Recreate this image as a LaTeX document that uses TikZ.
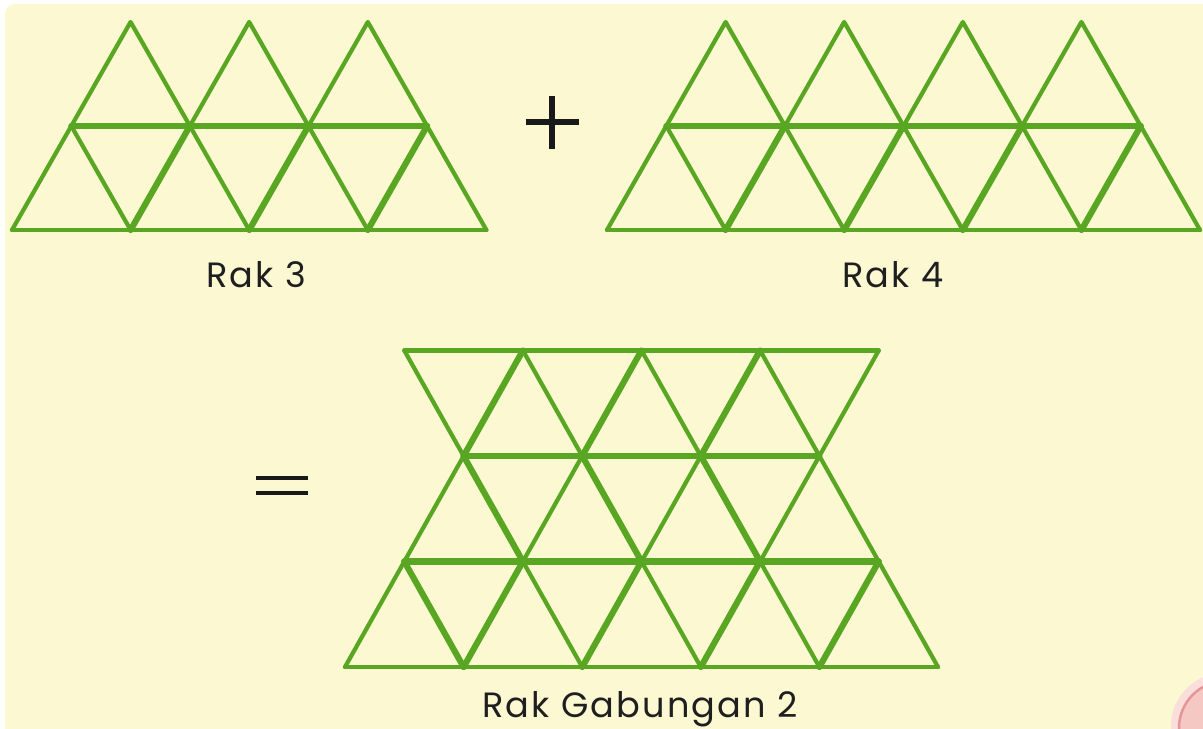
\documentclass[tikz,border=0pt]{standalone}
\usepackage{fontspec}
\setmainfont{Poppins}[LetterSpace=6]
\definecolor{panel}{RGB}{251,248,210}
\definecolor{stick}{RGB}{88,166,34}
\definecolor{blob}{RGB}{245,200,196}
\definecolor{blobline}{RGB}{228,150,150}

\begin{document}
\begin{tikzpicture}[x=0.02cm,y=-0.02cm,
    stk/.style={draw=stick,line width=2.4pt,line cap=round,line join=round},
    bold/.style={stk,line width=3.5pt},
    sign/.style={draw=black!90,line width=3pt},
    lbl/.style={font=\fontsize{20}{24}\selectfont,text=black!88,anchor=base}]
  \useasboundingbox (0,0) rectangle (1203,729);
  \fill[white] (0,0) rectangle (1203,729);
  \fill[panel,rounded corners=6pt] (5,4) rectangle (1260,790);
  % Rak 3
  \foreach \i in {0,...,4} \coordinate (a\i) at (12+118.6*\i,230);
  \foreach \i in {0,...,3} \coordinate (b\i) at (71.3+118.6*\i,126);
  \foreach \i in {0,...,2} \coordinate (c\i) at (130.6+118.6*\i,22);
  \draw[stk] (a0) -- (a4);
  \draw[bold] (b0) -- (b3);
  \foreach \i/\j in {0/1,1/2,2/3,3/4} {
    \draw[stk] (a\i) -- (b\i);
    \draw[stk] (b\i) -- (a\j);
  }
  \foreach \i/\j in {1/1,2/2,3/3}
    \draw[bold] (a\i) -- (b\j);
  \foreach \i/\j in {0/1,1/2,2/3}
    \draw[stk] (b\i) -- (c\i) -- (b\j);
  \node[lbl] (rak3) at (256,288) {Rak 3};
  % plus
  \coordinate (pl) at (526,122); \coordinate (pr) at (579,122);
  \coordinate (pt) at (552,96);  \coordinate (pb) at (552,149);
  \draw[sign] (pl) -- (pr);
  \draw[sign] (pt) -- (pb);
  % Rak 4
  \foreach \i in {0,...,5} \coordinate (p\i) at (607+118.6*\i,230);
  \foreach \i in {0,...,4} \coordinate (q\i) at (666.3+118.6*\i,126);
  \foreach \i in {0,...,3} \coordinate (r\i) at (725.6+118.6*\i,22);
  \draw[stk] (p0) -- (p5);
  \draw[bold] (q0) -- (q4);
  \foreach \i/\j in {0/1,1/2,2/3,3/4,4/5} {
    \draw[stk] (p\i) -- (q\i);
    \draw[stk] (q\i) -- (p\j);
  }
  \foreach \i in {1,...,4}
    \draw[bold] (p\i) -- (q\i);
  \foreach \i/\j in {0/1,1/2,2/3,3/4}
    \draw[stk] (q\i) -- (r\i) -- (q\j);
  \node[lbl] (rak4) at (893,288) {Rak 4};
  % equals
  \coordinate (e1) at (256,478); \coordinate (e2) at (308,478);
  \coordinate (e3) at (256,493); \coordinate (e4) at (308,493);
  \draw[sign,line width=2.5pt] (e1) -- (e2);
  \draw[sign,line width=2.5pt] (e3) -- (e4);
  % Rak Gabungan 2
  \foreach \i in {0,...,5} \coordinate (g\i) at (345+118.6*\i,667);
  \foreach \i in {0,...,4} \coordinate (h\i) at (404.3+118.6*\i,561.5);
  \foreach \i in {0,...,3} \coordinate (k\i) at (463.6+118.6*\i,456);
  \foreach \i in {0,...,4} \coordinate (m\i) at (404.3+118.6*\i,350.5);
  \draw[stk] (g0) -- (g5);
  \draw[bold] (h0) -- (h4);
  \draw[bold] (k0) -- (k3);
  \draw[stk] (m0) -- (m4);
  \foreach \i/\j in {0/1,1/2,2/3,3/4,4/5} {
    \draw[stk] (g\i) -- (h\i);
    \draw[stk] (h\i) -- (g\j);
  }
  \foreach \i in {1,...,4}
    \draw[bold] (g\i) -- (h\i);
  \draw[bold] (h0) -- (g1);
  \foreach \i/\j in {0/1,1/2,2/3,3/4} {
    \draw[stk] (h\i) -- (k\i) -- (h\j);
    \draw[stk] (m\i) -- (k\i) -- (m\j);
  }
  \foreach \i/\j in {0/1,1/2,2/3} {
    \draw[bold] (k\i) -- (h\j);
    \draw[bold] (k\i) -- (m\j);
  }
  \node[lbl] (gab) at (640,717) {Rak Gabungan 2};
  % corner blob
  \fill[blob!60] (1224,726) circle [radius=53];
  \filldraw[fill=blob,draw=blobline,line width=1.4pt] (1226,728) circle [radius=47];
\end{tikzpicture}
\end{document}
